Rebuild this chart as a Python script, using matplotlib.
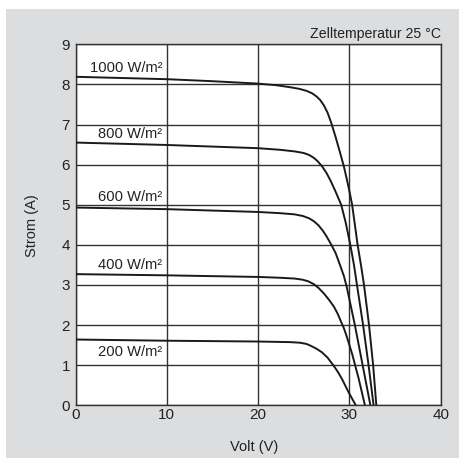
import matplotlib
matplotlib.use("Agg")
import matplotlib.pyplot as plt
from matplotlib.patches import Rectangle

plt.rcParams['font.family'] = ['Liberation Sans', 'DejaVu Sans']

# IV curves, volt / ampere
v_1000 = [0, 5, 10, 15, 20, 22, 23.5, 24.5, 25.3, 25.9, 26.4, 26.8, 27.2, 27.6, 28.0, 28.5,
          29.0, 29.4, 29.9, 30.3, 30.9, 31.3, 31.6, 32.15, 32.6, 32.95]
i_1000 = [8.19, 8.16, 8.13, 8.08, 8.02, 7.98, 7.93, 7.89, 7.84, 7.78, 7.70, 7.61, 7.48, 7.30, 7.05, 6.68,
          6.28, 5.95, 5.45, 5.0, 4.0, 3.45, 3.0, 2.0, 1.0, 0]

v_800 = [0, 10, 20, 22.4, 24, 25, 25.6, 26.1, 26.5, 27.0, 27.5, 28.0, 28.5, 29.1, 29.6, 30.1,
         30.5, 30.83, 31.5, 32.1, 32.65]
i_800 = [6.55, 6.49, 6.41, 6.37, 6.33, 6.29, 6.24, 6.17, 6.09, 5.96, 5.79, 5.57, 5.32, 5.0, 4.55, 4.0,
         3.5, 3.0, 2.0, 1.0, 0]

v_600 = [0, 10, 20, 22.4, 24.0, 24.9, 25.6, 26.1, 26.6, 27.1, 27.5, 28.0, 28.5, 29.0, 29.4, 29.7,
         30.6, 31.45, 32.3]
i_600 = [4.93, 4.89, 4.82, 4.79, 4.76, 4.72, 4.66, 4.59, 4.49, 4.35, 4.21, 4.01, 3.79, 3.48, 3.22, 2.96,
         2.0, 1.0, 0]

v_400 = [0, 10, 20, 22.4, 24.0, 24.9, 25.5, 26.1, 26.6, 27.2, 27.8, 28.3, 28.7, 29.0, 29.4, 29.7,
         30.3, 31.0, 31.7]
i_400 = [3.27, 3.24, 3.20, 3.18, 3.16, 3.13, 3.09, 3.02, 2.93, 2.79, 2.62, 2.46, 2.29, 2.13, 1.92, 1.72,
         1.28, 0.68, 0]

v_200 = [0, 10, 20, 23.5, 24.6, 25.3, 25.8, 26.4, 27.0, 27.6, 28.3, 28.8, 29.2, 29.9, 30.7]
i_200 = [1.64, 1.61, 1.59, 1.575, 1.56, 1.53, 1.48, 1.41, 1.32, 1.19, 0.98, 0.81, 0.65, 0.33, 0]

labels = ['1000 W/m²', '800 W/m²', '600 W/m²', '400 W/m²', '200 W/m²']
label_y = [8.4, 6.77, 5.2, 3.5, 1.33]

fig = plt.figure(figsize=(4.59, 4.58), dpi=100)
fig.patch.set_facecolor('#dcdddf')
# white strips at top and left edge
fig.patches.append(Rectangle((0, 1 - 9 / 458), 1, 9 / 458, transform=fig.transFigure,
                             facecolor='white', edgecolor='none', zorder=0))
fig.patches.append(Rectangle((0, 0), 6 / 459, 1, transform=fig.transFigure,
                             facecolor='white', edgecolor='none', zorder=0))

ax = fig.add_axes([75.5 / 459, 1 - 405.3 / 458, 365.2 / 459, 361 / 458])
ax.set_facecolor('white')

curves = [(v_1000, i_1000), (v_800, i_800), (v_600, i_600), (v_400, i_400), (v_200, i_200)]
for v, i in curves:
    ax.plot(v, i, color='#1a1a1a', lw=1.4, solid_joinstyle='round', zorder=3)

for lab, y in zip(labels, label_y):
    ax.text(9.5, y, lab, ha='right', va='center', fontsize=10.6, color='#222222', zorder=4)

ax.set_xlim(0, 40)
ax.set_ylim(0, 9)
ax.set_xticks([0, 10, 20, 30, 40])
ax.set_yticks(range(0, 10))
ax.grid(True, color='#333333', lw=1.0)
ax.set_axisbelow(True)
ax.tick_params(length=0, labelsize=11, colors='#222222')
ax.tick_params(axis='y', pad=4)
ax.tick_params(axis='x', pad=2)
for s in ax.spines.values():
    s.set_color('#333333')
    s.set_linewidth(1.0)

fig.text(254 / 459, 1 - 447 / 458, 'Volt (V)', ha='center', va='center', fontsize=10.5, color='#222222')
fig.text(31.7 / 459, 1 - 226 / 458, 'Strom (A)', ha='center', va='center', rotation=90,
         fontsize=10.5, color='#222222')
ax.text(1.0, 1.008, 'Zelltemperatur 25 °C', transform=ax.transAxes, ha='right', va='bottom',
        fontsize=10.2, color='#222222')

fig.savefig('out.png', dpi=100, facecolor=fig.get_facecolor())
